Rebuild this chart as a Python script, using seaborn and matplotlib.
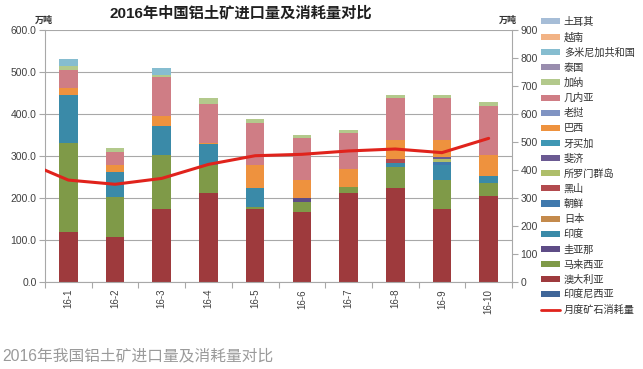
import matplotlib
matplotlib.use("Agg")
import matplotlib.pyplot as plt
import seaborn as sns
import numpy as np
import pandas as pd
from matplotlib.patches import Patch
from matplotlib.lines import Line2D
from matplotlib.ticker import FormatStrFormatter, FixedLocator

months = ["16-1", "16-2", "16-3", "16-4", "16-5", "16-6", "16-7", "16-8", "16-9", "16-10"]

# stacked series, bottom -> top (万吨)
印度尼西亚 = [0, 0, 0, 0, 0, 0, 0, 0, 0, 0]
澳大利亚 = [118, 106, 173, 211, 173, 167, 212, 223, 173, 205]
马来西亚 = [214, 97, 130, 67, 6, 24, 15, 50, 69, 30]
圭亚那 = [0, 0, 0, 0, 0, 8, 0, 0, 0, 0]
印度 = [113, 58, 68, 51, 46, 0, 0, 10, 36, 17]
日本 = [0, 0, 0, 0, 0, 0, 0, 0, 0, 0]
朝鲜 = [0, 0, 0, 0, 0, 0, 0, 0, 8, 0]
黑山 = [0, 0, 0, 0, 0, 0, 0, 10, 0, 0]
所罗门群岛 = [0, 0, 0, 0, 0, 0, 0, 0, 6, 0]
斐济 = [0, 0, 0, 0, 0, 0, 0, 0, 6, 0]
牙买加 = [0, 0, 0, 0, 0, 0, 0, 0, 0, 0]
巴西 = [18, 17, 25, 3, 54, 44, 42, 45, 41, 50]
老挝 = [0, 0, 0, 0, 0, 0, 0, 0, 0, 0]
几内亚 = [41, 32, 92, 91, 99, 99, 85, 99, 98, 118]
加纳 = [10, 10, 4, 16, 9, 8, 8, 8, 8, 8]
泰国 = [0, 0, 0, 0, 0, 0, 0, 0, 0, 0]
多米尼加共和国 = [16, 0, 18, 0, 0, 0, 0, 0, 0, 0]
越南 = [0, 0, 0, 0, 0, 0, 0, 0, 0, 0]
土耳其 = [0, 0, 0, 0, 0, 0, 0, 0, 0, 0]

# monthly ore consumption (right axis, 万吨); first value belongs to the month before 16-1
line_months = ["15-12"] + months
月度矿石消耗量 = [435, 364, 349, 370, 420, 451, 456, 468, 475, 462, 513]

series = [
    ("印度尼西亚", 印度尼西亚, "#3F6699"),
    ("澳大利亚", 澳大利亚, "#9E3A3D"),
    ("马来西亚", 马来西亚, "#7F9A48"),
    ("圭亚那", 圭亚那, "#5E4C86"),
    ("印度", 印度, "#3A8AA8"),
    ("日本", 日本, "#C48A4C"),
    ("朝鲜", 朝鲜, "#4079AD"),
    ("黑山", 黑山, "#B24A4E"),
    ("所罗门群岛", 所罗门群岛, "#AEBE6A"),
    ("斐济", 斐济, "#6B5A92"),
    ("牙买加", 牙买加, "#3F97B4"),
    ("巴西", 巴西, "#EE923E"),
    ("老挝", 老挝, "#8094C3"),
    ("几内亚", 几内亚, "#CF7D85"),
    ("加纳", 加纳, "#B3C98C"),
    ("泰国", 泰国, "#998DAE"),
    ("多米尼加共和国", 多米尼加共和国, "#86BDD0"),
    ("越南", 越南, "#F2B385"),
    ("土耳其", 土耳其, "#A6BDD7"),
]
line_color = "#E0231C"

sns.set_theme(style="white")
plt.rcParams["font.family"] = ["Liberation Sans", "Noto Sans CJK SC", "DejaVu Sans"]

fig = plt.figure(figsize=(6.43, 3.69), dpi=100)
ax = fig.add_axes([45 / 643, 1 - 282 / 369, (512 - 45) / 643, (282 - 30) / 369])

bottom = np.zeros(len(months))
for name, vals, col in series:
    df = pd.DataFrame({"month": months, "value": vals})
    sns.barplot(data=df, x="month", y="value", order=months, color=col,
                bottom=bottom.copy(), width=0.4, linewidth=0, saturation=1,
                ax=ax, errorbar=None)
    bottom = bottom + np.array(vals, dtype=float)

ax.set_ylim(0, 600)
ax.set_yticks(np.arange(0, 601, 100))
ax.yaxis.set_major_formatter(FormatStrFormatter("%.1f"))
ax.set_xlabel("")
ax.set_ylabel("")
ax.yaxis.grid(True, color="#A8A8A8", linewidth=0.8)
ax.set_axisbelow(True)
for s in ["left", "right", "bottom"]:
    ax.spines[s].set_color("#A8A8A8")
    ax.spines[s].set_linewidth(0.8)
ax.spines["top"].set_visible(False)
ax.tick_params(axis="y", which="major", length=4, width=0.8, color="#A8A8A8",
               labelsize=7.5, labelcolor="#404040", pad=2, direction="out", left=True)
ax.tick_params(axis="x", which="major", length=0, labelsize=7, labelcolor="#404040",
               labelrotation=90, pad=5)
ax.xaxis.set_minor_locator(FixedLocator(np.arange(-0.5, len(months), 1.0)))
ax.tick_params(axis="x", which="minor", length=4, width=0.8, color="#A8A8A8",
               direction="out", bottom=True)

ax2 = ax.twinx()
ldf = pd.DataFrame({"pos": np.arange(-1, len(months)), "value": 月度矿石消耗量})
sns.lineplot(data=ldf, x="pos", y="value", color=line_color, linewidth=2.2, ax=ax2)
ax2.set_ylim(0, 900)
ax2.set_yticks(np.arange(0, 901, 100))
ax2.set_ylabel("")
ax2.set_xlabel("")
for s in ["left", "right", "bottom", "top"]:
    ax2.spines[s].set_visible(False)
ax2.tick_params(axis="y", length=4, width=0.8, color="#A8A8A8", labelsize=7.5,
                labelcolor="#404040", pad=2, direction="out", right=True)
ax.set_xlim(-0.5, len(months) - 0.5)
ax2.set_xlim(-0.5, len(months) - 0.5)
ax.set_xticks(range(len(months)))
ax.set_xticklabels(months)

# title & units
fig.text(241 / 643, 1 - 13 / 369, "2016年中国铝土矿进口量及消耗量对比", ha="center", va="center",
         fontsize=11, fontweight="bold", color="#202020")
fig.text(35 / 643, 1 - 20 / 369, "万吨", ha="left", va="center", fontsize=6.5,
         fontweight="bold", color="#303030")
fig.text(499 / 643, 1 - 20 / 369, "万吨", ha="left", va="center", fontsize=6.5,
         fontweight="bold", color="#303030")

# legend (top entry first)
handles = [Patch(facecolor=c, edgecolor="none") for _, _, c in series[::-1]]
labels = [n for n, _, _ in series[::-1]]
handles.append(Line2D([0], [0], color=line_color, linewidth=2))
labels.append("月度矿石消耗量")
fig.legend(handles, labels, loc="upper left", bbox_to_anchor=(541 / 643, 1 - 17 / 369),
           frameon=False, fontsize=7.3, handlelength=1.85, handleheight=0.55,
           handletextpad=0.4, labelspacing=0.5, borderaxespad=0, borderpad=0,
           labelcolor="#303030")

# caption below the chart
fig.text(2 / 643, 1 - 356 / 369, "2016年我国铝土矿进口量及消耗量对比", ha="left", va="center",
         fontsize=11.3, color="#9A9A9A")

fig.savefig("out.png", dpi=100)
